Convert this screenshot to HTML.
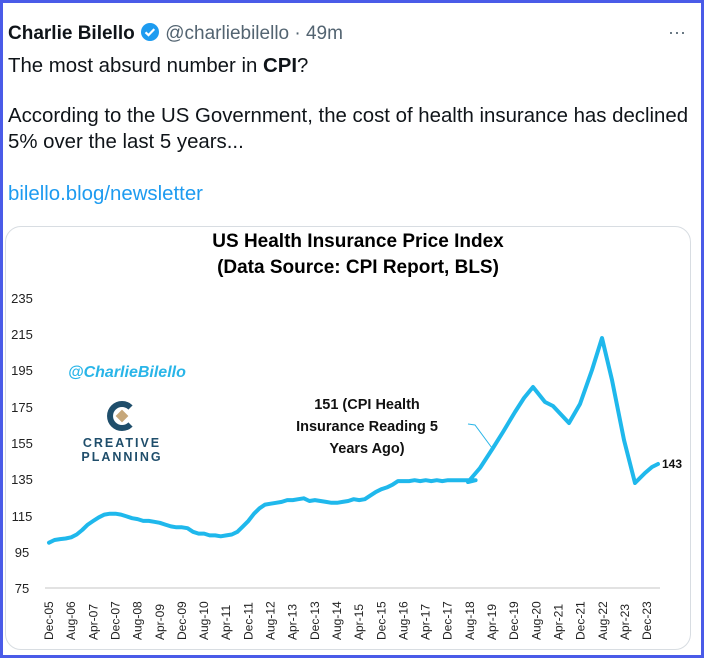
<!DOCTYPE html>
<html><head><meta charset="utf-8"><style>
html,body{margin:0;padding:0;}
body{width:704px;height:658px;overflow:hidden;background:#fff;font-family:"Liberation Sans",sans-serif;position:relative;}
.frame{position:absolute;left:0;top:0;width:698px;height:652px;border:3px solid #4a5be8;}
.t{position:absolute;left:8px;color:#0f1419;font-size:20.4px;white-space:nowrap;}
.card{position:absolute;left:5px;top:226px;width:684px;height:422px;border:1px solid #d8dde2;border-radius:16px;}
</style></head><body>
<div class="frame"></div>
<div class="t" style="top:22px;font-size:19px;"><b>Charlie Bilello</b> <svg width="20" height="20" viewBox="0 0 20 20" style="vertical-align:-3px"><circle cx="10" cy="10" r="9" fill="#1d9bf0"/><path d="M5.5 10.3l3 2.8 5.8-6" stroke="#fff" stroke-width="2.2" fill="none"/></svg> <span style="color:#536471">@charliebilello · 49m</span></div>
<div style="position:absolute;left:668px;top:22px;font-size:18px;color:#536471;">···</div>
<div class="t" style="top:55px;">The most absurd number in <b>CPI</b>?</div>
<div class="t" style="top:105px;">According to the US Government, the cost of health insurance has declined</div>
<div class="t" style="top:131px;">5% over the last 5 years...</div>
<div class="t" style="top:183px;color:#1d9bf0;">bilello.blog/newsletter</div>
<div class="card"></div>
<svg width="704" height="658" style="position:absolute;left:0;top:0" font-family="Liberation Sans, sans-serif">
<text x="358" y="247" text-anchor="middle" font-size="19" font-weight="bold" fill="#000">US Health Insurance Price Index</text>
<text x="358" y="273" text-anchor="middle" font-size="19" font-weight="bold" fill="#000">(Data Source: CPI Report, BLS)</text>
<g font-size="13" fill="#222" text-anchor="middle">
<text x="22" y="303">235</text><text x="22" y="339">215</text><text x="22" y="375">195</text><text x="22" y="412">175</text><text x="22" y="448">155</text><text x="22" y="484">135</text><text x="22" y="521">115</text><text x="22" y="557">95</text><text x="22" y="593">75</text>
</g>
<line x1="45" y1="588" x2="660" y2="588" stroke="#d9d9d9" stroke-width="1.5"/>
<g id="xl" font-size="12" fill="#222"></g>
<text x="68" y="377" font-size="16" font-style="italic" fill="#29b5e8" font-weight="bold">@CharlieBilello</text>
<g transform="translate(122,416)">
<path d="M8.5 -8.5 A12 12 0 1 0 8.5 8.5" stroke="#1f4e6b" stroke-width="6" fill="none"/>
<rect x="-4.5" y="-4.5" width="9" height="9" fill="#c6a77a" transform="rotate(45)"/>
</g>
<text x="122" y="447" text-anchor="middle" font-size="12.5" font-weight="bold" fill="#1f4e6b" letter-spacing="2">CREATIVE</text>
<text x="122" y="461" text-anchor="middle" font-size="12.5" font-weight="bold" fill="#1f4e6b" letter-spacing="2">PLANNING</text>
<g font-size="14.5" font-weight="bold" fill="#111" text-anchor="middle">
<text x="367" y="409">151 (CPI Health</text>
<text x="367" y="431">Insurance Reading 5</text>
<text x="367" y="453">Years Ago)</text>
</g>
<polyline points="468,424 475,425 492,448" stroke="#29b5e8" stroke-width="1" fill="none"/>
<polyline id="ln" fill="none" stroke="#1fb8ec" stroke-width="4" stroke-linejoin="round" stroke-linecap="round"/>
<text x="662" y="468" font-size="12" font-weight="bold" fill="#111">143</text>
</svg>
<script>
var d=[0,100,2,101.5,4,102,6,102.3,8,103,10,104.5,12,107,14,110,16,112,18,114,20,115.5,22,116,24,116,26,115.5,28,114.5,30,113.5,32,113,34,112,36,112,38,111.5,40,111,42,110,44,109,46,108.5,48,108.5,50,108,52,106,54,105,56,105,58,104,60,104,62,103.5,64,104,66,104.5,68,106,70,109,72,112,74,116,76,119,78,121,80,121.5,82,122,84,122.5,86,123.5,88,123.5,90,124,92,124.5,94,123,96,123.5,98,123,100,122.5,102,122,104,122,106,122.5,108,123,110,124,112,123.5,114,124,116,126,118,128,120,129.5,122,130.5,124,132,126,134,128,134,130,134,132,134.5,134,134,136,134.5,138,134,140,134.5,142,134,144,134.5,146,134.5,148,134.5,150,134.5,152,134.5,154,134.5];
var p=[];for(var i=0;i<d.length;i+=2){p.push((49+2.77*d[i]).toFixed(1)+","+(588-(d[i+1]-75)*1.8125).toFixed(1));}
p=p.concat(["468,482","480,468","493,448","503,432","515,412","524,398","533,387","545,402","553,406","569,423","580,404","592,370","602,338","612,380","624,440","635,483","645,473","652,467","658,464"]);
document.getElementById("ln").setAttribute("points",p.join(" "));
var lab=["Dec-05","Aug-06","Apr-07","Dec-07","Aug-08","Apr-09","Dec-09","Aug-10","Apr-11","Dec-11","Aug-12","Apr-13","Dec-13","Aug-14","Apr-15","Dec-15","Aug-16","Apr-17","Dec-17","Aug-18","Apr-19","Dec-19","Aug-20","Apr-21","Dec-21","Aug-22","Apr-23","Dec-23"];
var g=document.getElementById("xl"),s="";
for(var j=0;j<lab.length;j++){var x=49+j*22.15+4;s+='<text transform="translate('+x.toFixed(1)+',640) rotate(-90)">'+lab[j]+'</text>';}
g.innerHTML=s;
</script>
</body></html>
